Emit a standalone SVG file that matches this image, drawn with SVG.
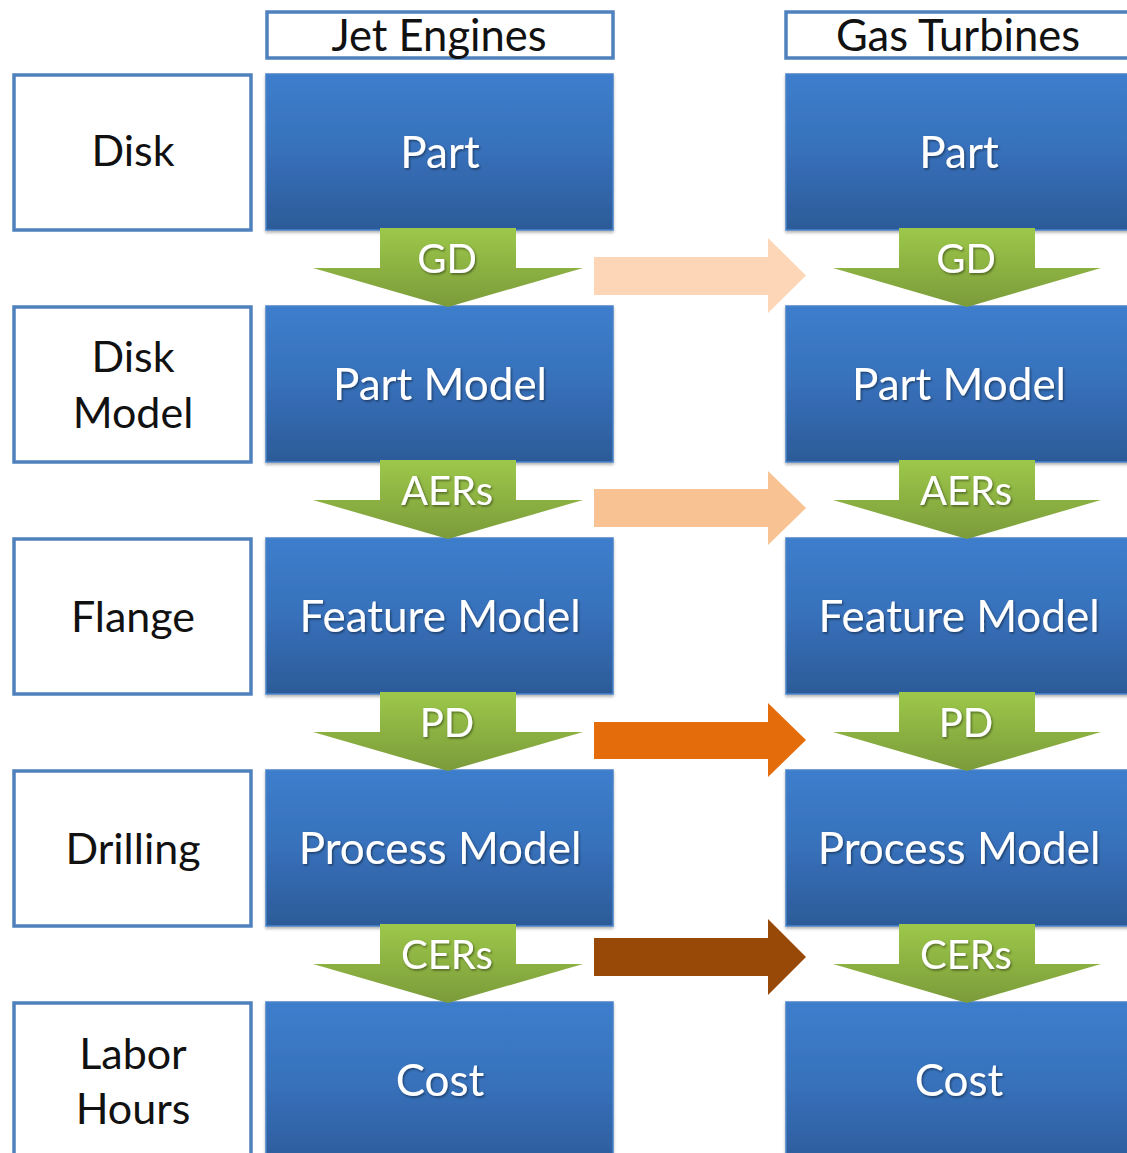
<svg xmlns="http://www.w3.org/2000/svg" width="1127" height="1153" viewBox="0 0 1127 1153">
  <defs>
    <linearGradient id="blueFill" x1="0" y1="0" x2="0" y2="1">
      <stop offset="0" stop-color="#3d7ecc"/>
      <stop offset="0.45" stop-color="#3872bd"/>
      <stop offset="1" stop-color="#2c5b99"/>
    </linearGradient>
    <linearGradient id="greenFill" x1="0" y1="0" x2="0" y2="1">
      <stop offset="0" stop-color="#9dc84a"/>
      <stop offset="1" stop-color="#7b9b3a"/>
    </linearGradient>
    <filter id="boxShadow" x="-5%" y="-5%" width="110%" height="115%">
      <feDropShadow dx="0" dy="2" stdDeviation="1.5" flood-color="#000" flood-opacity="0.3"/>
    </filter>
    <filter id="textShadow" x="-10%" y="-20%" width="120%" height="140%">
      <feDropShadow dx="1.2" dy="1.5" stdDeviation="0.8" flood-color="#000" flood-opacity="0.45"/>
    </filter>
  </defs>
  <style>
    .label { fill: #fff; stroke: #4f81bd; stroke-width: 3.5; }
    .stage { fill: url(#blueFill); stroke: #4a83c8; stroke-width: 1.5; filter: url(#boxShadow); }
    .flow { fill: url(#greenFill); }
    .dark { font-family: Lato, "Liberation Sans", sans-serif; font-size: 43px; fill: #111; text-anchor: middle; }
    .head { font-family: Lato, "Liberation Sans", sans-serif; font-size: 43.5px; fill: #111; text-anchor: middle; }
    .white { font-family: Lato, "Liberation Sans", sans-serif; font-size: 44px; fill: #fff; text-anchor: middle; filter: url(#textShadow); }
    .flowText { font-family: Lato, "Liberation Sans", sans-serif; font-size: 40px; fill: #fff; text-anchor: middle; filter: url(#textShadow); }
  </style>
  <rect width="1127" height="1153" fill="#fff"/>

  <!-- column headers -->
  <g id="header-jet">
    <rect class="label" x="267" y="12" width="346" height="46"/>
    <text class="head" x="439" y="51">Jet Engines</text>
  </g>
  <g id="header-gas">
    <rect class="label" x="786" y="12" width="360" height="46"/>
    <text class="head" x="958" y="51">Gas Turbines</text>
  </g>

  <!-- example labels -->
  <g id="lbl-disk">
    <rect class="label" x="14" y="75" width="237" height="155"/>
    <text class="dark" x="133" y="166">Disk</text>
  </g>
  <g id="lbl-disk-model">
    <rect class="label" x="14" y="307" width="237" height="155"/>
    <text class="dark" x="133" y="372">Disk</text>
    <text class="dark" x="133" y="428">Model</text>
  </g>
  <g id="lbl-flange">
    <rect class="label" x="14" y="539" width="237" height="155"/>
    <text class="dark" x="133" y="632">Flange</text>
  </g>
  <g id="lbl-drilling">
    <rect class="label" x="14" y="771" width="237" height="155"/>
    <text class="dark" x="133" y="864">Drilling</text>
  </g>
  <g id="lbl-labor">
    <rect class="label" x="14" y="1003" width="237" height="160"/>
    <text class="dark" x="133" y="1069">Labor</text>
    <text class="dark" x="133" y="1124">Hours</text>
  </g>

  <!-- jet engine stages -->
  <g id="jet-part"><rect class="stage" x="266" y="74" width="347" height="156"/><text class="white" x="440" y="168">Part</text></g>
  <g id="jet-part-model"><rect class="stage" x="266" y="306" width="347" height="156"/><text class="white" x="440" y="400">Part Model</text></g>
  <g id="jet-feature-model"><rect class="stage" x="266" y="538" width="347" height="156"/><text class="white" x="440" y="632">Feature Model</text></g>
  <g id="jet-process-model"><rect class="stage" x="266" y="770" width="347" height="156"/><text class="white" x="440" y="864">Process Model</text></g>
  <g id="jet-cost"><rect class="stage" x="266" y="1002" width="347" height="170"/><text class="white" x="440" y="1096">Cost</text></g>

  <!-- gas turbine stages -->
  <g id="gas-part"><rect class="stage" x="786" y="74" width="347" height="156"/><text class="white" x="959" y="168">Part</text></g>
  <g id="gas-part-model"><rect class="stage" x="786" y="306" width="347" height="156"/><text class="white" x="959" y="400">Part Model</text></g>
  <g id="gas-feature-model"><rect class="stage" x="786" y="538" width="347" height="156"/><text class="white" x="959" y="632">Feature Model</text></g>
  <g id="gas-process-model"><rect class="stage" x="786" y="770" width="347" height="156"/><text class="white" x="959" y="864">Process Model</text></g>
  <g id="gas-cost"><rect class="stage" x="786" y="1002" width="347" height="170"/><text class="white" x="959" y="1096">Cost</text></g>

  <!-- connectors -->
  <g id="connectors">
    <!-- downward flow arrows, jet column -->
    <path class="flow" d="M380,228 H516 V268 H583 L448,307 L313,268 H380 Z"/>
    <path class="flow" d="M380,460 H516 V500 H583 L448,539 L313,500 H380 Z"/>
    <path class="flow" d="M380,692 H516 V732 H583 L448,771 L313,732 H380 Z"/>
    <path class="flow" d="M380,924 H516 V964 H583 L448,1003 L313,964 H380 Z"/>
    <!-- downward flow arrows, gas column -->
    <path class="flow" d="M899,228 H1035 V268 H1101 L967,307 L833,268 H899 Z"/>
    <path class="flow" d="M899,460 H1035 V500 H1101 L967,539 L833,500 H899 Z"/>
    <path class="flow" d="M899,692 H1035 V732 H1101 L967,771 L833,732 H899 Z"/>
    <path class="flow" d="M899,924 H1035 V964 H1101 L967,1003 L833,964 H899 Z"/>
    <!-- flow labels -->
    <text class="flowText" x="447" y="273">GD</text>
    <text class="flowText" x="447" y="505">AERs</text>
    <text class="flowText" x="447" y="737">PD</text>
    <text class="flowText" x="447" y="969">CERs</text>
    <text class="flowText" x="966" y="273">GD</text>
    <text class="flowText" x="966" y="505">AERs</text>
    <text class="flowText" x="966" y="737">PD</text>
    <text class="flowText" x="966" y="969">CERs</text>
    <!-- transfer arrows between columns -->
    <path d="M594,257 H768 V238 L806,275.5 L768,313 V295 H594 Z" fill="#fcd6b6"/>
    <path d="M594,489 H768 V471 L806,508 L768,545 V527 H594 Z" fill="#f9c292"/>
    <path d="M594,722 H768 V703 L806,740 L768,777 V759 H594 Z" fill="#e46c0a"/>
    <path d="M594,938 H768 V919 L806,957 L768,995 V976 H594 Z" fill="#984807"/>
  </g>
</svg>
